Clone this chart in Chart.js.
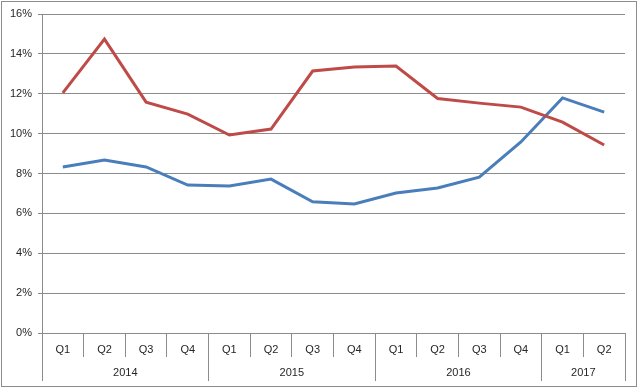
<!DOCTYPE html>
<html>
<head>
<meta charset="utf-8">
<script src="https://cdn.jsdelivr.net/npm/chart.js@4/dist/chart.umd.min.js"></script>
<style>
  html, body { margin: 0; padding: 0; background: #fff; }
  #wrap { position: relative; width: 640px; height: 389px; }
</style>
</head>
<body>
<div id="wrap"><canvas id="chart"></canvas></div>
<script>
const quarters = ['Q1', 'Q2', 'Q3', 'Q4', 'Q1', 'Q2', 'Q3', 'Q4', 'Q1', 'Q2', 'Q3', 'Q4', 'Q1', 'Q2'];
const years = ['2014', '2015', '2016', '2017'];
const yearSizes = [4, 4, 4, 2];
const redSeries = [12.04, 14.74, 11.58, 10.98, 9.93, 10.23, 13.14, 13.34, 13.39, 11.76, 11.53, 11.33, 10.58, 9.43];
const blueSeries = [8.33, 8.68, 8.33, 7.42, 7.37, 7.72, 6.58, 6.47, 7.02, 7.27, 7.82, 9.58, 11.79, 11.08];

const gridColor = '#8c8c8c';
const textColor = '#262626';
const font = { family: 'Liberation Sans, Arial, sans-serif', size: 11 };

// frame round the whole picture + year row under the quarter row
const excelAxis = {
  id: 'excelAxis',
  beforeDraw(chart) {
    const ctx = chart.ctx;
    ctx.save();
    ctx.strokeStyle = gridColor;
    ctx.lineWidth = 1;
    ctx.strokeRect(1.5, 1.5, chart.width - 5, chart.height - 4);
    ctx.restore();
  },
  afterDraw(chart) {
    const ctx = chart.ctx;
    const x = chart.scales.x;
    const bottom = chart.chartArea.bottom;
    ctx.save();
    ctx.strokeStyle = gridColor;
    ctx.lineWidth = 1;
    ctx.fillStyle = textColor;
    ctx.font = font.size + 'px ' + font.family;
    ctx.textAlign = 'center';
    ctx.textBaseline = 'middle';
    let start = 0;
    years.forEach((y, i) => {
      const end = start + yearSizes[i];
      const left = x.getPixelForValue(start - 0.5);
      const right = x.getPixelForValue(end - 0.5);
      [left, right].forEach(px => {
        // same pixel snapping as Chart.js grid lines
        const p = Math.round(px - 0.5) + 0.5;
        ctx.beginPath();
        ctx.moveTo(p, bottom);
        ctx.lineTo(p, bottom + 48);
        ctx.stroke();
      });
      ctx.fillText(y, (left + right) / 2, bottom + 40);
      start = end;
    });
    ctx.restore();
  }
};

new Chart(document.getElementById('chart'), {
  type: 'line',
  data: {
    labels: quarters,
    datasets: [
      {
        label: 'Red',
        data: redSeries,
        borderColor: '#be4b48',
        borderWidth: 3,
        pointRadius: 0,
        tension: 0,
      },
      {
        label: 'Blue',
        data: blueSeries,
        borderColor: '#4a7ebb',
        borderWidth: 3,
        pointRadius: 0,
        tension: 0,
      },
    ],
  },
  options: {
    responsive: true,
    maintainAspectRatio: false,
    animation: false,
    layout: { padding: { top: 14, right: 15, bottom: 0, left: 0 } },
    plugins: {
      legend: { display: false },
      tooltip: { enabled: false },
    },
    scales: {
      x: {
        offset: true,
        afterFit(scale) { scale.height = 56; },
        grid: {
          offset: true,
          drawOnChartArea: false,
          tickLength: 24,
          color: gridColor,
        },
        border: { color: gridColor },
        ticks: {
          color: textColor,
          font: font,
          padding: -14,
          maxRotation: 0,
          autoSkip: false,
        },
      },
      y: {
        min: 0,
        max: 16,
        afterFit(scale) { scale.width = 42; },
        grid: {
          color: gridColor,
          tickLength: 4,
        },
        border: { color: gridColor },
        ticks: {
          stepSize: 2,
          color: textColor,
          font: font,
          padding: 6,
          callback: v => v + '%',
        },
      },
    },
  },
  plugins: [excelAxis],
});
</script>
</body>
</html>
